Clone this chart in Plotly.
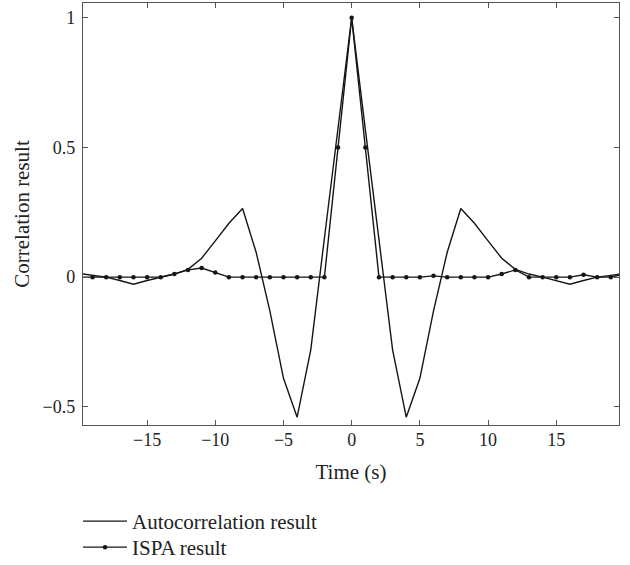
import plotly.graph_objects as go

# Time lags (s)
time_s = list(range(-20, 21))

# Autocorrelation result (symmetric about 0)
auto_half = [1.0, 0.57, 0.15, -0.28, -0.54, -0.39, -0.13, 0.095, 0.265, 0.208,
             0.14, 0.073, 0.03, 0.012, 0.0, -0.013, -0.027, -0.013, 0.0, 0.007, 0.014]
autocorr = auto_half[::-1] + auto_half[1:]

# ISPA result, lags -20 .. 20
ispa = [0.0, 0.0, 0.0, 0.0, 0.0, 0.0, 0.0,          # -20 .. -14
        0.012, 0.028, 0.035, 0.018,                  # -13 .. -10
        0.0, 0.0, 0.0, 0.0, 0.0, 0.0, 0.0, 0.0,      # -9 .. -2
        0.5, 1.0, 0.5,                               # -1 .. 1
        0.0, 0.0, 0.0, 0.0,                          # 2 .. 5
        0.005,                                       # 6
        0.0, 0.0, 0.0, 0.0,                          # 7 .. 10
        0.012, 0.028,                                # 11 .. 12
        0.0, 0.0, 0.0, 0.0,                          # 13 .. 16
        0.009, 0.0, 0.0, 0.012]                      # 17 .. 20

x_ticks = [-15, -10, -5, 0, 5, 10, 15]
x_tick_labels = ["\u221215", "\u221210", "\u22125", "0", "5", "10", "15"]
y_ticks = [-0.5, 0, 0.5, 1]
y_tick_labels = ["\u22120.5", "0", "0.5", "1"]

font_family = "Liberation Serif, DejaVu Serif, serif"
axis_color = "#555555"
text_color = "#222222"

fig = go.Figure()
fig.add_trace(go.Scatter(
    x=time_s, y=autocorr, mode="lines", name="Autocorrelation result",
    line=dict(color="#151515", width=1.4), legend="legend"))
fig.add_trace(go.Scatter(
    x=time_s, y=ispa, mode="lines+markers", name="ISPA result",
    line=dict(color="#151515", width=1.4),
    marker=dict(color="#151515", size=4.5, symbol="circle"), legend="legend2"))

legend_common = dict(xanchor="left", yanchor="top",
                     font=dict(family=font_family, size=21, color=text_color),
                     bgcolor="rgba(0,0,0,0)", itemwidth=44)

fig.update_layout(
    width=630, height=565,
    margin=dict(l=83, r=11, t=3, b=140, autoexpand=False),
    paper_bgcolor="white", plot_bgcolor="white",
    font=dict(family=font_family, size=18, color=text_color),
    showlegend=True,
    legend=dict(x=-0.0093, y=-(501 - 425) / 422, **legend_common),
    legend2=dict(x=-0.0093, y=-(527 - 425) / 422, **legend_common),
    xaxis=dict(
        range=[-19.7, 19.6], tickvals=x_ticks, ticktext=x_tick_labels,
        ticks="inside", ticklen=5, tickcolor=axis_color, tickwidth=1.2,
        ticklabelstandoff=-2,
        showline=True, linecolor=axis_color, linewidth=1.3, mirror="ticks",
        showgrid=False, zeroline=False,
        title=dict(text="Time (s)", standoff=15, font=dict(size=21)),
    ),
    yaxis=dict(
        range=[-0.57, 1.057], tickvals=y_ticks, ticktext=y_tick_labels,
        ticks="inside", ticklen=5, tickcolor=axis_color, tickwidth=1.2,
        ticklabelstandoff=3,
        showline=True, linecolor=axis_color, linewidth=1.3, mirror="ticks",
        showgrid=False, zeroline=False,
        title=dict(text="Correlation result", standoff=7, font=dict(size=21)),
    ),
)

fig.write_html("out.html", config={"displayModeBar": False},
               post_script="document.body.style.margin='0';document.body.style.overflow='hidden';")
